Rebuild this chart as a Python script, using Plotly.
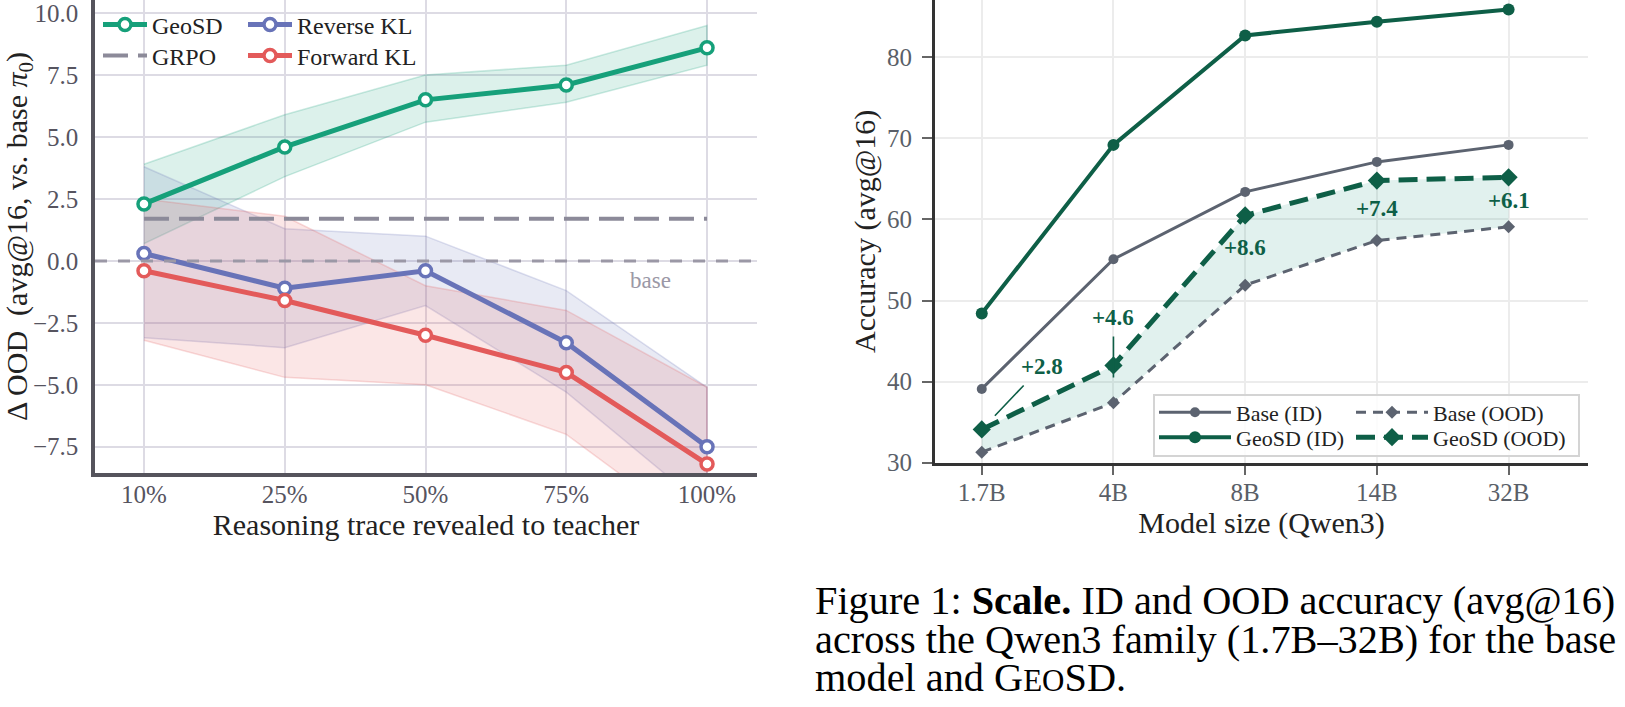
import plotly.graph_objects as go

# ---------------- data: left panel ----------------
reveal = ["10%", "25%", "50%", "75%", "100%"]
geosd = [2.3, 4.6, 6.5, 7.1, 8.6]
geosd_hi = [3.9, 5.9, 7.5, 7.9, 9.5]
geosd_lo = [0.7, 3.4, 5.6, 6.4, 7.9]
rkl = [0.3, -1.1, -0.4, -3.3, -7.5]
rkl_hi = [3.8, 1.3, 1.0, -1.2, -5.1]
rkl_lo = [-3.1, -3.5, -1.8, -5.3, -10.0]
fkl = [-0.4, -1.6, -3.0, -4.5, -8.2]
fkl_hi = [2.5, 1.8, -1.0, -2.0, -5.1]
fkl_lo = [-3.2, -4.7, -5.0, -7.0, -11.2]
grpo_level = 1.7
base_level = 0.0

# ---------------- data: right panel ----------------
sizes = ["1.7B", "4B", "8B", "14B", "32B"]
base_id = [39.1, 55.1, 63.4, 67.1, 69.2]
geosd_id = [48.4, 69.2, 82.7, 84.4, 85.9]
base_ood = [31.3, 37.4, 51.9, 57.4, 59.1]
geosd_ood = [34.1, 42.0, 60.5, 64.8, 65.2]
gain_labels = ["+2.8", "+4.6", "+8.6", "+7.4", "+6.1"]

FONT = "Liberation Serif"
W, H = 1625, 707

C_GEO = "#16a07a"
C_RKL = "#6873b8"
C_FKL = "#e35a5a"
C_GRPO = "#8c8a99"
C_DG = "#0e5f47"
C_GR = "#5c6370"


def rgba(hexc, a):
    h = hexc.lstrip("#")
    r, g, b = int(h[0:2], 16), int(h[2:4], 16), int(h[4:6], 16)
    return f"rgba({r},{g},{b},{a})"


fig = go.Figure()

# ---- left panel bands ----
for hi, lo, c in [(geosd_hi, geosd_lo, C_GEO), (rkl_hi, rkl_lo, C_RKL), (fkl_hi, fkl_lo, C_FKL)]:
    fig.add_trace(go.Scatter(
        x=reveal + reveal[::-1], y=hi + lo[::-1], fill="toself",
        fillcolor=rgba(c, 0.15), line=dict(color=rgba(c, 0.22), width=1.5),
        mode="lines", showlegend=False, hoverinfo="skip", xaxis="x", yaxis="y"))

# GRPO reference
fig.add_trace(go.Scatter(
    x=reveal, y=[grpo_level] * len(reveal), mode="lines", name="GRPO",
    line=dict(color=C_GRPO, width=4, dash="25px,10px"),
    legend="legend2", xaxis="x", yaxis="y"))

for name, ys, c, lg in [("Reverse KL", rkl, C_RKL, "legend3"),
                        ("Forward KL", fkl, C_FKL, "legend4"),
                        ("GeoSD", geosd, C_GEO, "legend")]:
    fig.add_trace(go.Scatter(
        x=reveal, y=ys, mode="lines+markers", name=name,
        line=dict(color=c, width=5),
        marker=dict(symbol="circle", size=12, color="white", line=dict(color=c, width=3.5)),
        legend=lg, xaxis="x", yaxis="y"))

# ---- right panel ----
fig.add_trace(go.Scatter(
    x=sizes + sizes[::-1], y=geosd_ood + base_ood[::-1], fill="toself",
    fillcolor="rgba(22,150,120,0.13)", line=dict(width=0), mode="lines",
    showlegend=False, hoverinfo="skip", xaxis="x2", yaxis="y2"))

fig.add_trace(go.Scatter(
    x=sizes, y=base_id, mode="lines+markers", name="Base (ID)",
    line=dict(color=C_GR, width=3), marker=dict(symbol="circle", size=10, color=C_GR),
    legend="legend5", xaxis="x2", yaxis="y2"))
fig.add_trace(go.Scatter(
    x=sizes, y=geosd_id, mode="lines+markers", name="GeoSD (ID)",
    line=dict(color=C_DG, width=4), marker=dict(symbol="circle", size=12, color=C_DG),
    legend="legend6", xaxis="x2", yaxis="y2"))
fig.add_trace(go.Scatter(
    x=sizes, y=base_ood, mode="lines+markers", name="Base (OOD)",
    line=dict(color=C_GR, width=3, dash="10px,7px"), marker=dict(symbol="diamond", size=10, color=C_GR),
    legend="legend7", xaxis="x2", yaxis="y2"))
fig.add_trace(go.Scatter(
    x=sizes, y=geosd_ood, mode="lines+markers", name="GeoSD (OOD)",
    line=dict(color=C_DG, width=5, dash="19px,9px"), marker=dict(symbol="diamond", size=14, color=C_DG),
    legend="legend8", xaxis="x2", yaxis="y2"))

# gain annotations
ann = []
arrow_cfg = {0: dict(ax=60, ay=-63, yshift=0, standoff=19), 1: dict(ax=0, ay=-60, yshift=-12, standoff=0)}
below_shift = {2: -32, 3: -28, 4: -23}
for i, lab in enumerate(gain_labels):
    if i in arrow_cfg:
        cfg = arrow_cfg[i]
        ann.append(dict(x=sizes[i], y=geosd_ood[i], xref="x2", yref="y2", text=f"<b>{lab}</b>",
                        showarrow=True, arrowhead=0, arrowwidth=1.6, arrowcolor=C_DG,
                        ax=cfg["ax"], ay=cfg["ay"], axref="pixel", ayref="pixel",
                        yshift=cfg["yshift"], standoff=cfg["standoff"], borderpad=6,
                        font=dict(family=FONT, size=23, color=C_DG)))
    else:
        ann.append(dict(x=sizes[i], y=geosd_ood[i], xref="x2", yref="y2", text=f"<b>{lab}</b>",
                        showarrow=False, yshift=below_shift[i],
                        font=dict(family=FONT, size=23, color=C_DG)))

# "base" label on left panel
ann.append(dict(x=3.6, y=base_level, xref="x", yref="y", text="base", showarrow=False,
                yshift=-20, font=dict(family=FONT, size=23, color="#9b98a6")))

# caption
cap_lines = [
    "Figure 1: <b>Scale.</b> ID and OOD accuracy (avg@16)",
    "across the Qwen3 family (1.7B–32B) for the base",
    "model and G<span style='font-size:31px'>EO</span>SD.",
]
cap_y = [600, 639, 677]
for t, yy in zip(cap_lines, cap_y):
    ann.append(dict(x=813 / W, y=1 - yy / H, xref="paper", yref="paper", text=t,
                    showarrow=False, xanchor="left", yanchor="middle",
                    font=dict(family=FONT, size=40.3, color="#000000")))

shapes = [
    dict(type="line", xref="x domain", yref="y", x0=0, x1=1, y0=base_level, y1=base_level,
         line=dict(color="#9b98a6", width=3, dash="12px,11px"), layer="above"),
    dict(type="rect", xref="paper", yref="paper", x0=1154 / W, x1=1579 / W,
         y0=1 - 456 / H, y1=1 - 395 / H, fillcolor="rgba(255,255,255,0.85)",
         line=dict(color="#d4d4d4", width=2), layer="above"),
]

tickfont_l = dict(family=FONT, size=25, color="#56545f")
tickfont_r = dict(family=FONT, size=25, color="#5a5f68")
titlefont = dict(family=FONT, size=30, color="#222222")
NB = "\u00a0"


def leg(xpx, toppx, size, iw):
    return dict(x=xpx / W, y=1 - toppx / H, xanchor="left", yanchor="top",
                bgcolor="rgba(0,0,0,0)", borderwidth=0, itemwidth=iw,
                font=dict(family=FONT, size=size, color="#222222"))


IW_L, IW_R = 44, 72
fig.update_layout(
    width=W, height=H, margin=dict(l=0, r=0, t=0, b=0, autoexpand=False),
    paper_bgcolor="white", plot_bgcolor="white",
    font=dict(family=FONT),
    xaxis=dict(domain=[95 / W, 757 / W], anchor="y", type="category", range=[-0.348, 4.355],
               automargin=False,
               showgrid=True, gridcolor="#dddbe4", gridwidth=2,
               showline=True, linecolor="#55545c", linewidth=3.5,
               ticks="outside", ticklen=6, tickcolor="rgba(0,0,0,0)", tickfont=tickfont_l,
               ticklabelstandoff=-10,
               title=dict(text="Reasoning trace revealed to teacher", font=titlefont, standoff=6),
               zeroline=False),
    yaxis=dict(domain=[1 - 473 / H, 1], anchor="x", range=[-8.56, 10.53],
               automargin=False, ticklabeloverflow="allow",
               tickvals=[-7.5, -5, -2.5, 0, 2.5, 5, 7.5, 10], tickformat=".1f",
               showgrid=True, gridcolor="#dddbe4", gridwidth=2,
               showline=True, linecolor="#55545c", linewidth=3.5,
               ticks="outside", ticklen=4, tickcolor="rgba(0,0,0,0)", tickfont=tickfont_l,
               ticklabelstandoff=4,
               title=dict(text=f"Δ OOD{NB}{NB}(avg@16, vs. base <i>π</i><sub>0</sub>)", font=titlefont, standoff=6),
               zeroline=False),
    xaxis2=dict(domain=[935 / W, 1588 / W], anchor="y2", type="category", range=[-0.355, 4.603],
                automargin=False,
                showgrid=True, gridcolor="#ececec", gridwidth=1.5,
                showline=True, linecolor="#333333", linewidth=3,
                ticks="outside", ticklen=9, tickwidth=2, tickcolor="#666666", tickfont=tickfont_r,
                ticklabelstandoff=-4,
                title=dict(text="Model size (Qwen3)", font=titlefont, standoff=4),
                zeroline=False),
    yaxis2=dict(domain=[1 - 462.7 / H, 1], anchor="x2", range=[30, 87.07],
                automargin=False, ticklabeloverflow="allow",
                tickvals=[30, 40, 50, 60, 70, 80],
                showgrid=True, gridcolor="#ececec", gridwidth=1.5,
                showline=True, linecolor="#333333", linewidth=3,
                ticks="outside", ticklen=10, tickwidth=2, tickcolor="#666666", tickfont=tickfont_r,
                ticklabelstandoff=5,
                title=dict(text="Accuracy (avg@16)", font=titlefont, standoff=3),
                zeroline=False),
    legend=leg(152 - IW_L - 10, 2.4, 24, IW_L),
    legend2=leg(152 - IW_L - 10, 33.4, 24, IW_L),
    legend3=leg(297 - IW_L - 10, 2.4, 24, IW_L),
    legend4=leg(297 - IW_L - 10, 33.4, 24, IW_L),
    legend5=leg(1236 - IW_R - 10, 391.4, 22, IW_R),
    legend6=leg(1236 - IW_R - 10, 416.4, 22, IW_R),
    legend7=leg(1433 - IW_R - 10, 391.4, 22, IW_R),
    legend8=leg(1433 - IW_R - 10, 416.4, 22, IW_R),
    annotations=ann, shapes=shapes,
)

fig.write_html("out.html")
